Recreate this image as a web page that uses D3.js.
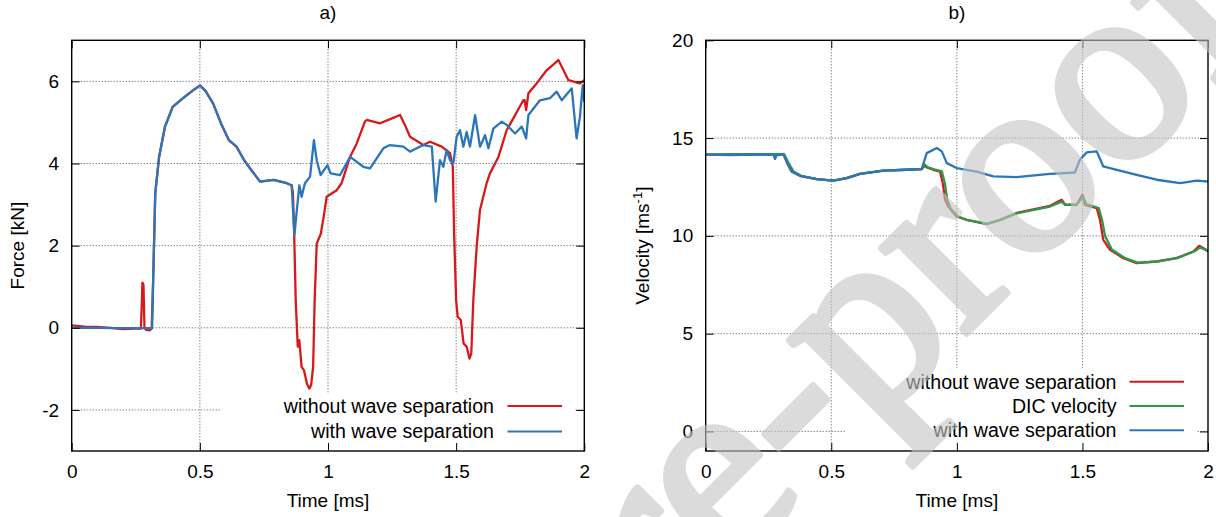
<!DOCTYPE html>
<html>
<head>
<meta charset="utf-8">
<script src="https://cdn.jsdelivr.net/npm/d3@7"></script>
<style>
  body { margin: 0; background: #fff; }
  svg text { font-family: "Liberation Sans", Arial, sans-serif; fill: #000; }
</style>
</head>
<body>
<svg id="chart" width="1216" height="517"></svg>
<script>
// data [time ms, value]
const timeTicks = [0, 0.5, 1, 1.5, 2];
const forceTicks = [-2, 0, 2, 4, 6];
const velocityTicks = [0, 5, 10, 15, 20];

// a) force, without wave separation
const forceRed = [[0,0.06],[0.05,0.03],[0.1,0.02],[0.15,0],[0.2,-0.03],[0.25,-0.02],[0.27,-0.02],[0.273,0.5],[0.276,1.1],[0.28,1.05],
  [0.284,0],[0.29,-0.05],[0.305,-0.06],[0.312,-0.02],[0.318,1.2],[0.326,3.27],[0.341,4.16],[0.364,4.9],[0.394,5.38],[0.432,5.58],
  [0.477,5.8],[0.501,5.9],[0.522,5.77],[0.552,5.46],[0.583,4.97],[0.613,4.57],[0.643,4.41],[0.673,4.08],[0.696,3.88],[0.735,3.56],
  [0.787,3.6],[0.839,3.52],[0.858,3.47],[0.863,3.3],[0.868,2.3],[0.874,0.67],[0.882,-0.46],[0.888,-0.3],[0.897,-0.95],[0.906,-1.03],
  [0.918,-1.36],[0.927,-1.48],[0.934,-1.4],[0.942,-0.95],[0.948,0.67],[0.956,2.05],[0.972,2.29],[0.983,2.7],[0.995,3.19],[1.034,3.35],
  [1.053,3.52],[1.086,4.16],[1.112,4.49],[1.144,5.02],[1.151,5.06],[1.203,4.98],[1.25,5.1],[1.281,5.18],[1.3,4.94],[1.32,4.65],
  [1.372,4.45],[1.398,4.53],[1.444,4.41],[1.476,4.25],[1.487,3.92],[1.492,2.3],[1.5,0.67],[1.506,0.27],[1.518,0.19],[1.529,-0.38],
  [1.541,-0.46],[1.552,-0.75],[1.559,-0.63],[1.567,0.67],[1.58,1.97],[1.593,2.87],[1.619,3.52],[1.632,3.76],[1.665,4.16],[1.697,4.81],
  [1.723,5.1],[1.762,5.54],[1.767,5.54],[1.773,5.3],[1.782,5.71],[1.814,5.95],[1.853,6.27],[1.899,6.52],[1.938,6.03],[1.983,5.95],[2,6.03]];

// a) force, with wave separation
const forceBlue = [[0,0],[0.1,0],[0.2,-0.01],[0.31,-0.01],[0.314,0],[0.318,1.2],[0.326,3.27],[0.341,4.16],[0.364,4.9],[0.394,5.38],
  [0.432,5.58],[0.477,5.8],[0.501,5.9],[0.522,5.77],[0.552,5.46],[0.583,4.97],[0.613,4.57],[0.643,4.41],[0.673,4.08],[0.696,3.88],
  [0.735,3.56],[0.787,3.6],[0.839,3.52],[0.858,3.47],[0.869,2.26],[0.888,3.47],[0.897,3.19],[0.91,3.52],[0.93,3.68],[0.945,4.57],
  [0.956,4.08],[0.971,3.72],[0.998,3.96],[1.01,3.76],[1.047,3.72],[1.086,4.16],[1.138,3.92],[1.164,3.88],[1.216,4.37],[1.242,4.45],
  [1.294,4.41],[1.32,4.29],[1.372,4.45],[1.405,4.41],[1.42,3.07],[1.437,4.08],[1.45,3.92],[1.463,4.33],[1.476,4.08],[1.489,4],
  [1.502,4.65],[1.515,4.81],[1.528,4.41],[1.541,4.77],[1.554,4.41],[1.574,5.18],[1.593,4.41],[1.613,4.69],[1.626,4.37],[1.645,4.85],
  [1.678,5.02],[1.697,4.94],[1.73,4.73],[1.756,4.9],[1.773,4.61],[1.782,5.18],[1.827,5.54],[1.866,5.59],[1.892,5.75],[1.912,5.54],
  [1.951,5.83],[1.97,4.61],[1.983,5.14],[1.994,5.91],[2,5.5]];

// b) velocity, without wave separation
const velRed = [[0,14.15],[0.309,14.18],[0.325,13.72],[0.342,13.29],[0.375,13.07],[0.442,12.9],[0.508,12.83],[0.561,12.95],[0.614,13.17],
  [0.707,13.34],[0.8,13.38],[0.86,13.41],[0.872,13.6],[0.88,13.5],[0.906,13.38],[0.933,13.29],[0.944,12.7],[0.953,11.85],[0.966,11.5],
  [0.999,10.99],[1.039,10.82],[1.119,10.6],[1.172,10.82],[1.238,11.17],[1.371,11.54],[1.417,11.85],[1.431,11.59],[1.477,11.59],[1.5,12.1],
  [1.51,11.59],[1.557,11.42],[1.57,10.82],[1.583,9.8],[1.61,9.29],[1.663,8.86],[1.716,8.61],[1.796,8.69],[1.875,8.86],[1.941,9.2],
  [1.965,9.49],[1.981,9.38],[2,9.2]];

// b) DIC velocity
const velGreen = [[0,14.15],[0.312,14.18],[0.33,13.72],[0.35,13.29],[0.38,13.07],[0.442,12.9],[0.508,12.83],[0.561,12.95],[0.614,13.17],
  [0.707,13.34],[0.8,13.38],[0.86,13.41],[0.872,13.65],[0.885,13.5],[0.91,13.4],[0.94,13.3],[0.952,12.7],[0.962,11.85],[0.975,11.4],
  [1.005,10.99],[1.045,10.8],[1.119,10.62],[1.172,10.8],[1.238,11.15],[1.371,11.5],[1.417,11.75],[1.431,11.6],[1.477,11.6],[1.503,12],
  [1.515,11.62],[1.565,11.42],[1.578,10.82],[1.59,10],[1.617,9.3],[1.67,8.86],[1.72,8.63],[1.8,8.69],[1.875,8.86],[1.945,9.2],
  [1.968,9.4],[1.985,9.32],[2,9.25]];

// b) velocity, with wave separation
const velBlue = [[0,14.15],[0.1,14.13],[0.2,14.16],[0.27,14.15],[0.276,13.93],[0.282,14.12],[0.309,14.18],[0.325,13.72],[0.342,13.29],
  [0.375,13.07],[0.442,12.9],[0.508,12.83],[0.561,12.95],[0.614,13.17],[0.707,13.34],[0.8,13.38],[0.86,13.41],[0.88,14.23],[0.92,14.49],
  [0.94,14.32],[0.96,13.72],[0.999,13.47],[1.039,13.38],[1.079,13.29],[1.145,13.04],[1.238,13],[1.371,13.17],[1.47,13.24],[1.49,13.89],
  [1.517,14.27],[1.557,14.32],[1.583,13.55],[1.637,13.38],[1.716,13.12],[1.796,12.87],[1.889,12.7],[1.955,12.83],[2,12.78]];

const red = "#d7191c", green = "#2b9a48", blue = "#2b76bb";
const fontSize = 19, keyFont = 19.6;
const top_ = 40.3, bottom = 451;

const svg = d3.select("#chart");
svg.append("rect").attr("width", 1216).attr("height", 517).attr("fill", "#fff");

function panel(cfg) {
  const g = svg.append("g");
  const x = d3.scaleLinear().domain([0, 2]).range([cfg.left, cfg.right]);
  const y = d3.scaleLinear().domain(cfg.yDomain).range([bottom, top_]);

  // dotted grid
  const grid = g.append("g").attr("stroke", "#555").attr("stroke-width", 1).attr("stroke-dasharray", "1,2");
  grid.selectAll(".gx").data(timeTicks.slice(1, -1)).enter().append("line")
    .attr("x1", d => x(d)).attr("x2", d => x(d)).attr("y1", top_).attr("y2", bottom);
  grid.selectAll(".gy").data(cfg.yTicks.filter(d => y(d) > top_ + 1)).enter().append("line")
    .attr("x1", cfg.left).attr("x2", cfg.right).attr("y1", d => y(d)).attr("y2", d => y(d));

  // opaque key background
  g.append("rect").attr("x", cfg.key.x0).attr("y", cfg.key.y0)
    .attr("width", cfg.key.x1 - cfg.key.x0).attr("height", bottom - cfg.key.y0).attr("fill", "#fff");

  // data
  const clipId = "clip" + cfg.name;
  g.append("clipPath").attr("id", clipId).append("rect")
    .attr("x", cfg.left).attr("y", top_).attr("width", cfg.right - cfg.left).attr("height", bottom - top_);
  const line = d3.line().x(d => x(d[0])).y(d => y(d[1]));
  cfg.series.forEach(s => {
    g.append("path").datum(s.data).attr("d", line).attr("clip-path", `url(#${clipId})`)
      .attr("fill", "none").attr("stroke", s.color).attr("stroke-width", 2.3)
      .attr("stroke-linejoin", "round");
  });

  // axes, ticks point inward
  const fmt = d => String(d);
  const ax = g.append("g").attr("transform", `translate(0,${bottom})`)
    .call(d3.axisBottom(x).tickValues(timeTicks).tickSizeInner(-8).tickSizeOuter(0).tickPadding(14).tickFormat(fmt));
  const ay = g.append("g").attr("transform", `translate(${cfg.left},0)`)
    .call(d3.axisLeft(y).tickValues(cfg.yTicks).tickSizeInner(-8).tickSizeOuter(0).tickPadding(12.5).tickFormat(fmt));
  const axT = g.append("g").attr("transform", `translate(0,${top_})`)
    .call(d3.axisTop(x).tickValues(timeTicks).tickSizeInner(-8).tickSizeOuter(0).tickFormat(""));
  const ayR = g.append("g").attr("transform", `translate(${cfg.right},0)`)
    .call(d3.axisRight(y).tickValues(cfg.yTicks).tickSizeInner(-8).tickSizeOuter(0).tickFormat(""));
  [ax, ay, axT, ayR].forEach(a => {
    a.select(".domain").remove();
    a.selectAll("line").attr("stroke", "#000").attr("stroke-width", 1);
    a.selectAll("text").attr("font-size", fontSize).attr("font-family", null).attr("fill", "#000");
  });

  g.append("rect").attr("x", cfg.left).attr("y", top_)
    .attr("width", cfg.right - cfg.left).attr("height", bottom - top_)
    .attr("fill", "none").attr("stroke", "#000").attr("stroke-width", 1.4);

  // titles
  const cx = (cfg.left + cfg.right) / 2;
  g.append("text").attr("x", cx).attr("y", 12).attr("dy", "0.35em").attr("text-anchor", "middle")
    .attr("font-size", fontSize).text(cfg.title);
  g.append("text").attr("x", cx).attr("y", 500).attr("dy", "0.35em").attr("text-anchor", "middle")
    .attr("font-size", fontSize).text("Time [ms]");
  const yl = g.append("text").attr("transform", `translate(${cfg.ylabelX},${(top_ + bottom) / 2}) rotate(-90)`)
    .attr("dy", "0.35em").attr("text-anchor", "middle").attr("font-size", fontSize);
  cfg.ylabel(yl);

  // key
  cfg.series.slice().sort((a, b) => a.keyRow - b.keyRow).forEach(s => {
    const ry = cfg.key.rowY + s.keyRow * cfg.key.step;
    g.append("text").attr("x", cfg.key.textRight).attr("y", ry).attr("dy", "0.35em")
      .attr("text-anchor", "end").attr("font-size", keyFont).text(s.label);
    g.append("line").attr("x1", cfg.key.l0).attr("x2", cfg.key.l1).attr("y1", ry).attr("y2", ry)
      .attr("stroke", s.color).attr("stroke-width", 2.1);
  });
}

panel({
  name: "a", title: "a)", left: 71.7, right: 584.3, yDomain: [-3, 7], yTicks: forceTicks, ylabelX: 17.5,
  ylabel: t => t.text("Force [kN]"),
  key: { x0: 221, x1: 574, y0: 393, rowY: 406, step: 25.5, textRight: 494, l0: 507.5, l1: 562 },
  series: [
    { data: forceRed, color: red, label: "without wave separation", keyRow: 0 },
    { data: forceBlue, color: blue, label: "with wave separation", keyRow: 1 }
  ]
});

panel({
  name: "b", title: "b)", left: 705.7, right: 1208, yDomain: [-1, 20], yTicks: velocityTicks, ylabelX: 642,
  ylabel: t => {
    t.append("tspan").text("Velocity [ms");
    t.append("tspan").attr("baseline-shift", "super").attr("font-size", 13).text("-1");
    t.append("tspan").text("]");
  },
  key: { x0: 845, x1: 1196, y0: 368, rowY: 381.7, step: 24.3, textRight: 1116.5, l0: 1129.5, l1: 1184 },
  series: [
    { data: velRed, color: red, label: "without wave separation", keyRow: 0 },
    { data: velGreen, color: green, label: "DIC velocity", keyRow: 1 },
    { data: velBlue, color: blue, label: "with wave separation", keyRow: 2 }
  ]
});

// journal watermark across the right panel only
svg.append("clipPath").attr("id", "wmclip").append("rect")
  .attr("x", 608).attr("y", 0).attr("width", 608).attr("height", 517);
svg.append("g").attr("clip-path", "url(#wmclip)")
  .append("text")
  .attr("transform", "translate(-30,1330) rotate(-45)")
  .style("font-family", "'Liberation Serif', serif")
  .attr("font-size", 262)
  .style("fill", "#c4c4c4").style("stroke", "#c4c4c4").style("stroke-width", 7)
  .attr("stroke-linejoin", "round").attr("opacity", 0.6)
  .text("Journal Pre-proof");
</script>
</body>
</html>
